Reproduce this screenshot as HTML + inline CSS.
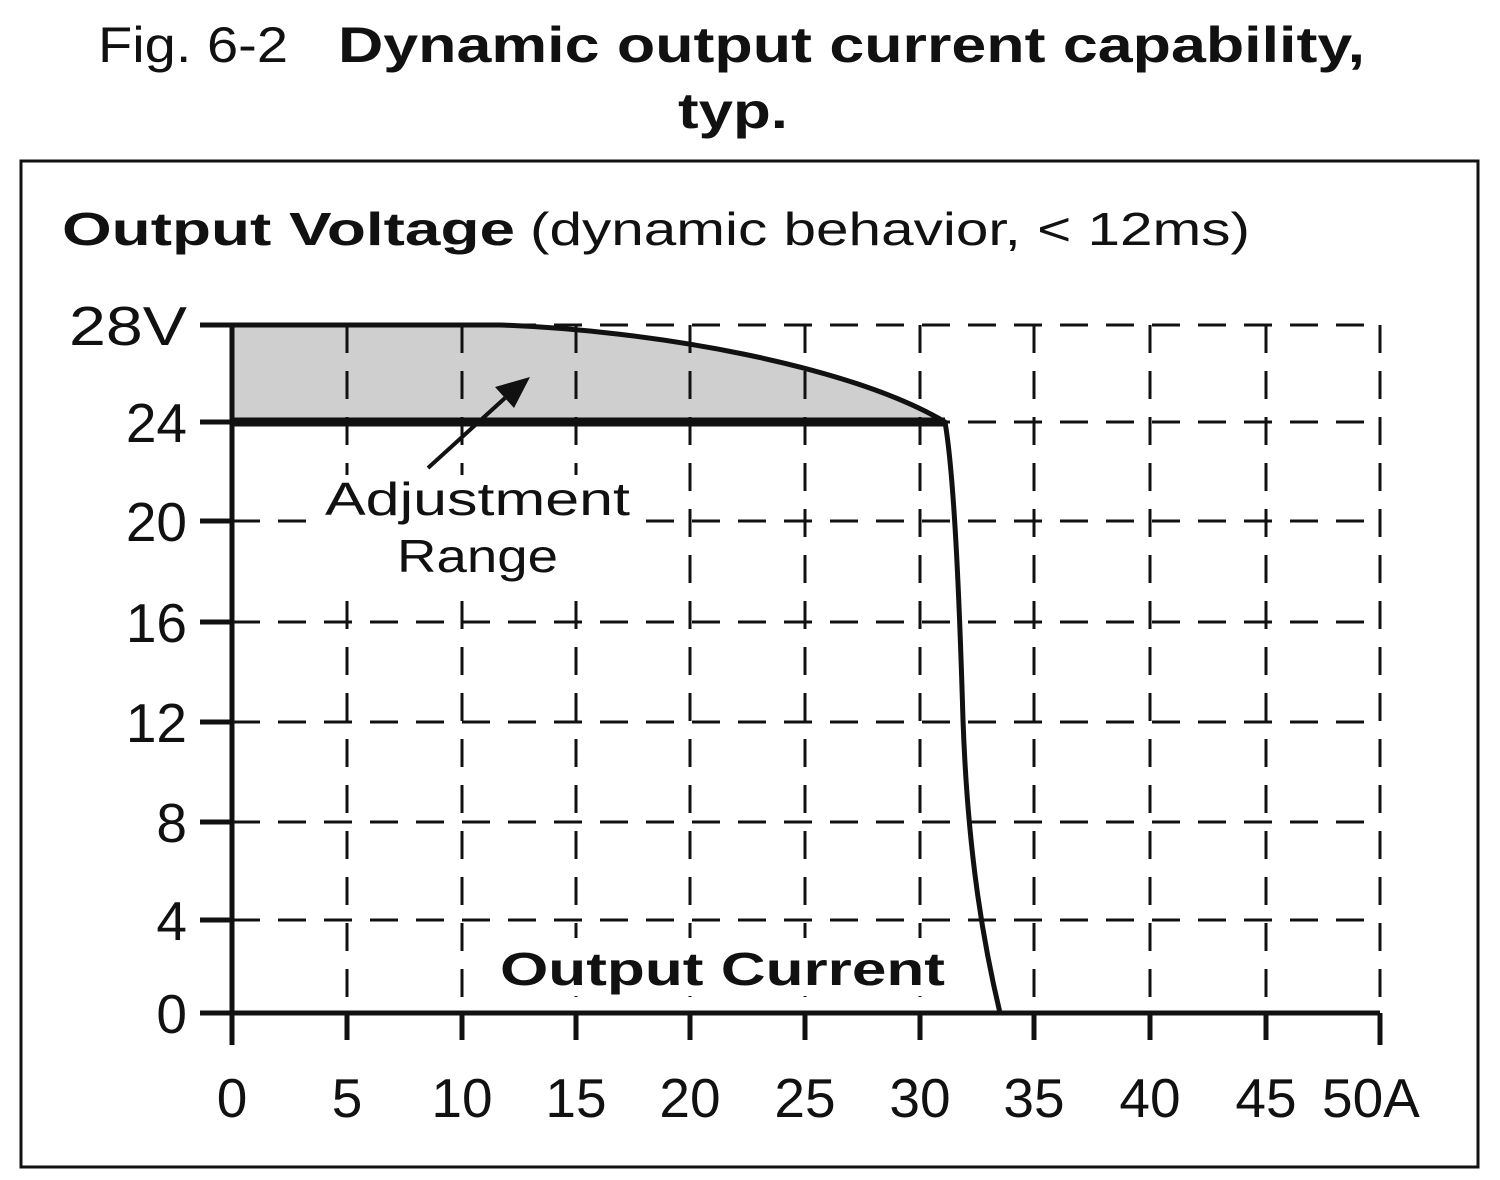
<!DOCTYPE html>
<html><head><meta charset="utf-8"><style>html,body{margin:0;padding:0;background:#fff}svg{display:block}</style></head>
<body>
<svg width="1500" height="1180" viewBox="0 0 1500 1180" xmlns="http://www.w3.org/2000/svg" font-family="Liberation Sans, sans-serif" fill="#111">
<text x="98" y="62" font-size="50" textLength="190" lengthAdjust="spacingAndGlyphs">Fig. 6-2</text>
<text x="338" y="62" font-size="50" font-weight="bold" textLength="1027" lengthAdjust="spacingAndGlyphs">Dynamic output current capability,</text>
<text x="678" y="128" font-size="50" font-weight="bold" textLength="110" lengthAdjust="spacingAndGlyphs">typ.</text>
<rect x="21" y="161" width="1457" height="1006" fill="none" stroke="#111" stroke-width="3"/>
<text x="62" y="245" font-size="46" font-weight="bold" textLength="453" lengthAdjust="spacingAndGlyphs">Output Voltage</text>
<text x="530" y="245" font-size="46" textLength="720" lengthAdjust="spacingAndGlyphs">(dynamic behavior, &lt; 12ms)</text>
<path d="M232,325 L500,325 C650,330 850,365 945,422 L232,422 Z" fill="#cfcfcf"/>
<g stroke="#111" stroke-width="3" stroke-dasharray="28,18" fill="none">
<path d="M232,521H1380M232,622H1380M232,722H1380M232,822H1380M232,920H1380M232,422H1380M232,325H1380"/>
<path d="M347,325V1013M462,325V1013M576,325V1013M690,325V1013M805,325V1013M920,325V1013M1034,325V1013M1150,325V1013M1266,325V1013M1380,325V1013"/>
</g>
<g stroke="#111" stroke-width="5" fill="none">
<path d="M232,325V1045"/>
<path d="M200,1013H1380"/>
<path d="M200,325H500M200,422H232M200,521H232M200,622H232M200,722H232M200,822H232M200,920H232"/>
<path d="M347,1013V1040M462,1013V1040M576,1013V1040M690,1013V1040M805,1013V1040M920,1013V1040M1034,1013V1040M1150,1013V1040M1266,1013V1040M1380,1013V1045"/>
</g>
<path d="M232,422H945" stroke="#111" stroke-width="9"/>
<path d="M232,325L500,325 C650,330 850,365 945,422 C955,480 960,620 963,720 C968,860 985,950 1000,1013" stroke="#111" stroke-width="5" fill="none"/>
<path d="M428,468L505,398" stroke="#111" stroke-width="4"/>
<path d="M530,377L495,387L514,408Z" fill="#111"/>
<rect x="320" y="475" width="315" height="108" fill="#fff"/>
<text x="325" y="515" font-size="46" textLength="305" lengthAdjust="spacingAndGlyphs">Adjustment</text>
<text x="397" y="572" font-size="46" textLength="161" lengthAdjust="spacingAndGlyphs">Range</text>
<rect x="495" y="938" width="455" height="58" fill="#fff"/>
<text x="500" y="985" font-size="46" font-weight="bold" textLength="445" lengthAdjust="spacingAndGlyphs">Output Current</text>
<g font-size="55" text-anchor="end">
<text x="187" y="345" textLength="118" lengthAdjust="spacingAndGlyphs">28V</text><text x="187" y="442">24</text><text x="187" y="541">20</text><text x="187" y="642">16</text><text x="187" y="742">12</text><text x="187" y="842">8</text><text x="187" y="940">4</text><text x="187" y="1033">0</text>
</g>
<g font-size="55" text-anchor="middle">
<text x="232" y="1117">0</text><text x="347" y="1117">5</text><text x="462" y="1117">10</text><text x="576" y="1117">15</text><text x="690" y="1117">20</text><text x="805" y="1117">25</text><text x="920" y="1117">30</text><text x="1034" y="1117">35</text><text x="1150" y="1117">40</text><text x="1266" y="1117">45</text>
</g>
<text x="1322" y="1117" font-size="55">50A</text>
</svg>
</body></html>
